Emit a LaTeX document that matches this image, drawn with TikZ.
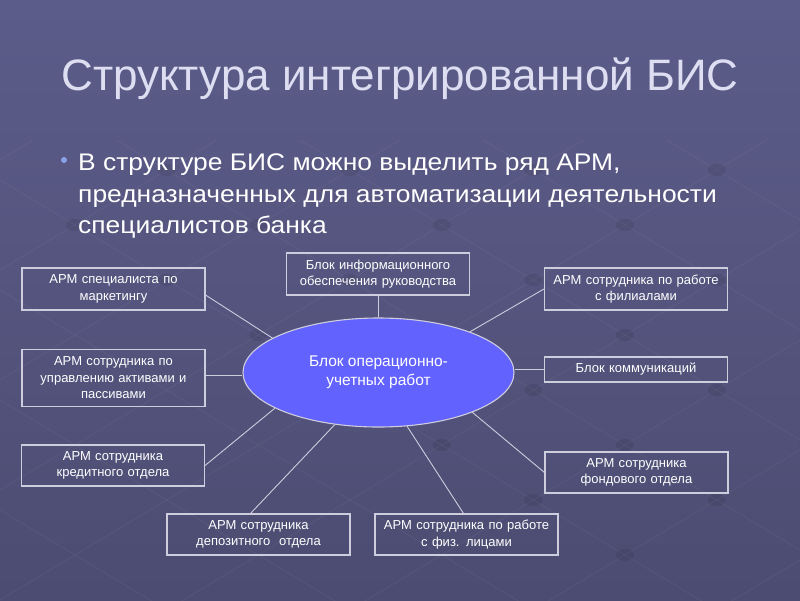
\documentclass[tikz,border=0pt]{standalone}
\usepackage{fontspec}
\setmainfont{Liberation Sans}
\newfontfamily\bulfont[FakeStretch=1.1]{Liberation Sans}
\usetikzlibrary{shapes.geometric,calc}
\definecolor{bgtop}{RGB}{92,92,138}
\definecolor{bgbot}{RGB}{76,76,114}
\definecolor{titlec}{RGB}{222,222,242}
\definecolor{boxline}{RGB}{205,205,222}
\definecolor{ellfill}{RGB}{98,98,255}
\definecolor{bulletc}{RGB}{140,160,235}
\tikzset{
  box/.style={draw=boxline, line width=1.1pt, minimum width=183pt, text width=180pt,
    inner sep=0pt, align=center, text=white, font=\fontsize{13}{16.5}\selectfont},
  conn/.style={draw=boxline, line width=0.9pt},
  bultext/.style={text=white, font=\bulfont\fontsize{24}{32}\selectfont, anchor=base west, inner sep=0pt},
  latline/.style={draw=white, opacity=0.045, line width=1pt},
  latdot/.style={fill=black, opacity=0.08},
}
\begin{document}
\begin{tikzpicture}[x=1pt,y=-1pt]
\useasboundingbox (0,0) rectangle (800,600);
\shade[top color=bgtop, bottom color=bgbot] (0,0) rectangle (800,600);
% faint background lattice
\begin{scope}
\clip (0,140) rectangle (800,600);
\foreach \c in {-700,-590,...,900} {
  \draw[latline] (0,\c) -- (800,\c+480);
  \draw[latline] (0,\c+200) -- (800,\c-280);
}
\foreach \i in {-7,...,8} {
  \foreach \j in {-2,...,14} {
    \pgfmathsetmacro\ca{110*\i-700}
    \pgfmathsetmacro\cb{110*\j-500}
    \pgfmathsetmacro\px{(\cb-\ca)/1.2}
    \pgfmathsetmacro\py{(\ca+\cb)/2}
    \fill[latdot] (\px,\py) ellipse (9pt and 6pt);
  }
}
\end{scope}
% title
\node[text=titlec, font=\fontsize{44}{50}\selectfont, anchor=base] (title) at (400,90) {Структура интегрированной БИС};
% bullet
\fill[bulletc] (64,160) circle (3pt);
\node[bultext] (bul1) at (78,170) {В структуре БИС можно выделить ряд АРМ,};
\node[bultext] (bul2) at (78,202) {предназначенных для автоматизации деятельности};
\node[bultext] (bul3) at (78,233) {специалистов банка};
% ellipse
\node[ellipse, draw=boxline, line width=1.1pt, fill=ellfill, minimum width=271pt, minimum height=109pt,
  inner sep=0pt, align=center, text=white, font=\fontsize{15.5}{19}\selectfont] (ell) at (378.5,372.5)
  {Блок операционно-\\учетных работ};
% boxes
\node[box, minimum height=42pt] (b1) at (113.5,289) {АРМ специалиста по\\маркетингу};
\node[box, minimum height=57pt] (b2) at (113.5,378) {АРМ сотрудника по\\управлению активами и\\пассивами};
\node[box, minimum height=41pt] (b3) at (113,465.5) {АРМ сотрудника\\кредитного отдела};
\node[box, minimum height=41pt] (b4) at (258.5,534.5) {АРМ сотрудника\\депозитного\ \ отдела};
\node[box, minimum height=41pt] (b5) at (466.5,534.5) {АРМ сотрудника по работе\\с физ. лицами};
\node[box, minimum height=41pt] (b6) at (636.5,472.5) {АРМ сотрудника\\фондового отдела};
\node[box, minimum height=25pt] (b7) at (636,369.5) {Блок коммуникаций};
\node[box, minimum height=42pt] (b8) at (636,289) {АРМ сотрудника по работе\\с филиалами};
\node[box, minimum height=42pt] (b9) at (378,274) {Блок информационного\\обеспечения руководства};
% connectors
\draw[conn] ([yshift=-6pt]b1.east) -- (ell.162);
\draw[conn] ([yshift=3pt]b2.east) -- ([yshift=3pt]b2.east -| ell.west);
\draw[conn] (b3.east) -- (ell.199);
\draw[conn] ([xshift=-8pt]b4.north) -- (ell.230);
\draw[conn] ([xshift=-3pt]b5.north) -- (ell.298);
\draw[conn] (b6.west) -- (ell.337);
\draw[conn] (b7.west) -- (b7.west -| ell.east);
\draw[conn] (b8.west) -- (ell.24);
\draw[conn] (b9.south) -- (b9.south |- ell.north);
\end{tikzpicture}
\end{document}
